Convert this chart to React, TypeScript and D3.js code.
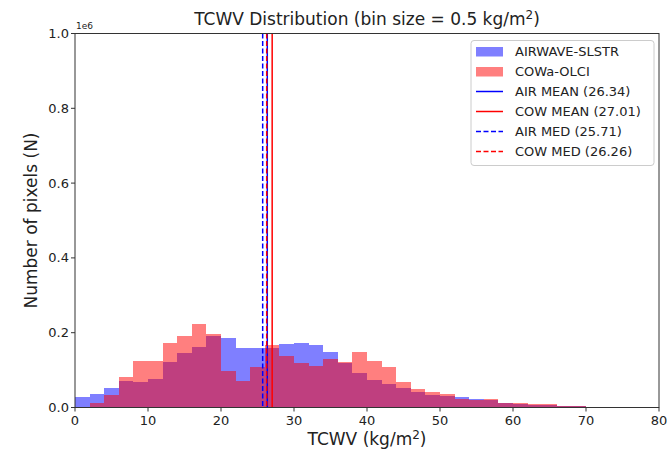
import React from "react";
import * as d3 from "d3";

const binEdgesStart = 0;
const binWidth = 2;
// counts per 2-unit bin starting at 0
const airCounts = [28000, 37000, 52000, 72000, 69000, 76000, 121000, 146000, 162000, 190000, 185000, 158000, 160000, 160000, 171000, 173000, 166000, 148000, 120000, 92000, 73000, 62000, 53000, 42000, 33000, 30000, 27000, 24000, 19000, 12000, 10000, 7000, 6000, 4000, 3500, 2500, 2500, 0, 0, 0];
const cowCounts = [0, 11000, 34000, 82000, 125000, 124000, 172000, 192000, 222000, 196000, 98000, 72000, 108000, 167000, 139000, 118000, 111000, 130000, 121000, 148000, 124000, 107000, 67000, 50000, 42000, 37000, 23000, 21000, 23000, 13000, 13000, 10000, 10000, 5000, 5000, 0, 0, 0, 0, 0];
const xTicks = [0, 10, 20, 30, 40, 50, 60, 70, 80];
const yTicks = [0, 0.2e6, 0.4e6, 0.6e6, 0.8e6, 1.0e6];
const stats = [
  { label: "AIR MEAN (26.34)", value: 26.34, color: "#0000ff", dash: "" },
  { label: "COW MEAN (27.01)", value: 27.01, color: "#ff0000", dash: "" },
  { label: "AIR MED (25.71)", value: 25.71, color: "#0000ff", dash: "5,2.5" },
  { label: "COW MED (26.26)", value: 26.26, color: "#ff0000", dash: "5,2.5" },
];
const histSeries = [
  { label: "AIRWAVE-SLSTR", counts: airCounts, color: "#0000ff" },
  { label: "COWa-OLCI", counts: cowCounts, color: "#ff0000" },
];

const W = 667, H = 457;
const L = 75, R = 659, T = 33.5, B = 407.5;
const font = "DejaVu Sans, sans-serif";

export default function App() {
  const x = d3.scaleLinear().domain([0, 80]).range([L, R]);
  const y = d3.scaleLinear().domain([0, 1e6]).range([B, T]);
  const legendRows = [
    ...histSeries.map((s) => ({ label: s.label, kind: "patch", color: s.color, dash: "" })),
    ...stats.map((s) => ({ label: s.label, kind: "line", color: s.color, dash: s.dash })),
  ];
  return (
    <svg width={W} height={H} style={{ position: "absolute", left: 0, top: 0, background: "#fff" }} fontFamily={font}>
      <defs>
        <clipPath id="plot"><rect x={L} y={T} width={R - L} height={B - T} /></clipPath>
      </defs>
      <g clipPath="url(#plot)">
        {histSeries.map((s) => (
          <g key={s.label}>
            {s.counts.map((c, i) =>
              c > 0 ? (
                <rect key={i}
                  x={x(binEdgesStart + i * binWidth)}
                  width={x(binEdgesStart + (i + 1) * binWidth) - x(binEdgesStart + i * binWidth)}
                  y={y(c)} height={B - y(c)}
                  fill={s.color} fillOpacity={0.5} shapeRendering="crispEdges" />
              ) : null
            )}
          </g>
        ))}
        {stats.map((s) => (
          <line key={s.label} x1={x(s.value)} x2={x(s.value)} y1={T} y2={B}
            stroke={s.color} strokeWidth={1.5} strokeDasharray={s.dash || undefined} />
        ))}
      </g>
      <rect x={L} y={T} width={R - L} height={B - T} fill="none" stroke="#333" strokeWidth={1} />
      {xTicks.map((t) => (
        <g key={t}>
          <line x1={x(t)} x2={x(t)} y1={B} y2={B + 4} stroke="#333" />
          <text x={x(t)} y={B + 17} fontSize={13} textAnchor="middle" fill="#222">{t}</text>
        </g>
      ))}
      {yTicks.map((t) => (
        <g key={t}>
          <line x1={L - 4} x2={L} y1={y(t)} y2={y(t)} stroke="#333" />
          <text x={L - 6} y={y(t) + 4.5} fontSize={13} textAnchor="end" fill="#222">{(t / 1e6).toFixed(1)}</text>
        </g>
      ))}
      <text x={L + 1} y={T - 5} fontSize={9} fill="#222">1e6</text>
      <text x={(L + R) / 2} y={25} fontSize={17} textAnchor="middle" fill="#222">
        TCWV Distribution (bin size = 0.5 kg/m<tspan dy={-6} fontSize={12}>2</tspan><tspan dy={6}>)</tspan>
      </text>
      <text x={(L + R) / 2} y={445} fontSize={17} textAnchor="middle" fill="#222">
        TCWV (kg/m<tspan dy={-6} fontSize={12}>2</tspan><tspan dy={6}>)</tspan>
      </text>
      <text transform={`translate(37,${(T + B) / 2}) rotate(-90)`} fontSize={17} textAnchor="middle" fill="#222">
        Number of pixels (N)
      </text>
      <g>
        <rect x={471} y={40.5} width={183} height={125} rx={3} fill="#fff" fillOpacity={0.8} stroke="#ccc" />
        {legendRows.map((r, i) => {
          const cy = 51.5 + i * 20;
          return (
            <g key={r.label}>
              {r.kind === "patch" ? (
                <rect x={476} y={cy - 4.5} width={27} height={9.5} fill={r.color} fillOpacity={0.5} />
              ) : (
                <line x1={476} x2={503} y1={cy} y2={cy} stroke={r.color} strokeWidth={1.5} strokeDasharray={r.dash || undefined} />
              )}
              <text x={515} y={cy + 4.5} fontSize={13} fill="#222">{r.label}</text>
            </g>
          );
        })}
      </g>
    </svg>
  );
}
